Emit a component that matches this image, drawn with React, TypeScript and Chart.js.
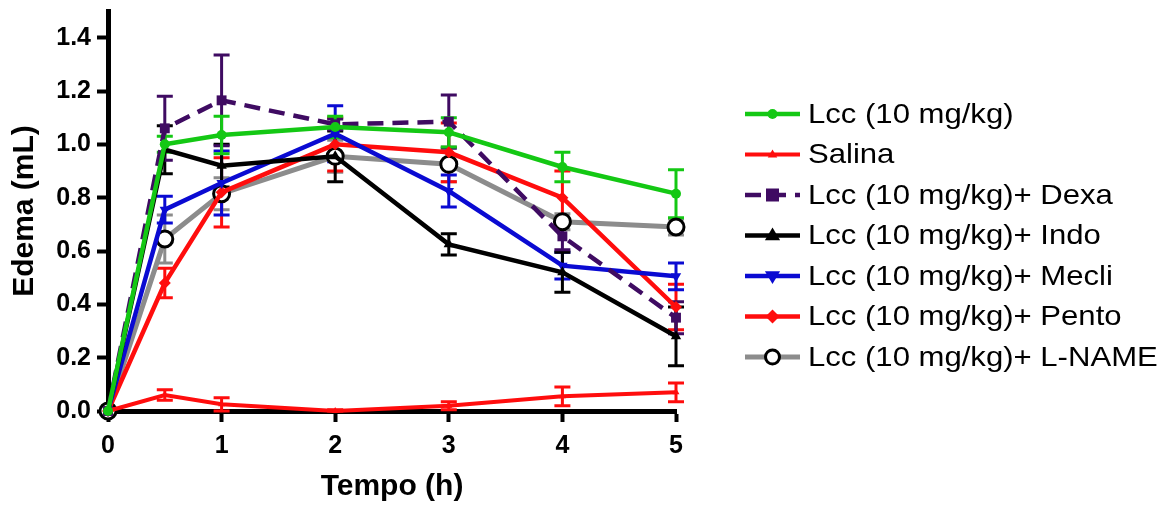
import React, { useEffect, useRef } from 'react';
import { Chart, registerables } from 'chart.js';

Chart.register(...registerables);

const timePoints = [0, 0.5, 1, 2, 3, 4, 5];
const xTickValues = [0, 1, 2, 3, 4, 5];
const yTickValues = [0, 0.2, 0.4, 0.6, 0.8, 1.0, 1.2, 1.4];

const seriesLabels = [
  'Lcc (10 mg/kg)',
  'Salina',
  'Lcc (10 mg/kg)+ Dexa',
  'Lcc (10 mg/kg)+ Indo',
  'Lcc (10 mg/kg)+ Mecli',
  'Lcc (10 mg/kg)+ Pento',
  'Lcc (10 mg/kg)+ L-NAME',
];

const lccMean = [0, 1.0, 1.035, 1.065, 1.045, 0.915, 0.815];
const lccErr = [0, 0.03, 0.07, 0.04, 0.055, 0.055, 0.09];
const salinaMean = [0, 0.06, 0.025, 0.0, 0.02, 0.055, 0.07];
const salinaErr = [0, 0.02, 0.025, 0.005, 0.015, 0.035, 0.035];
const dexaMean = [0, 1.06, 1.165, 1.075, 1.085, 0.655, 0.35];
const dexaErr = [0, 0.12, 0.17, 0.02, 0.1, 0.05, 0.06];
const indoMean = [0, 0.98, 0.92, 0.955, 0.625, 0.52, 0.28];
const indoErr = [0, 0.09, 0.08, 0.095, 0.04, 0.075, 0.11];
const mecliMean = [0, 0.755, 0.855, 1.04, 0.825, 0.545, 0.505];
const mecliErr = [0, 0.05, 0.12, 0.105, 0.06, 0.05, 0.05];
const pentoMean = [0, 0.48, 0.82, 1.0, 0.97, 0.8, 0.39];
const pentoErr = [0, 0.055, 0.13, 0.1, 0.11, 0.1, 0.085];
const lnameMean = [0, 0.645, 0.815, 0.955, 0.925, 0.71, 0.69];
const lnameErr = [0, 0.09, 0.06, 0.06, 0.065, 0.03, 0.03];

const FONT = "'Liberation Sans', Arial, Helvetica, sans-serif";

type MarkerSpec = {
  shape: string;
  r: number;
  fill: string;
  stroke: string;
  bw: number;
};

function drawMarker(ctx: CanvasRenderingContext2D, m: MarkerSpec, x: number, y: number) {
  ctx.save();
  ctx.setLineDash([]);
  ctx.fillStyle = m.fill;
  ctx.strokeStyle = m.stroke;
  ctx.lineWidth = m.bw;
  ctx.beginPath();
  const r = m.r;
  if (m.shape === 'circle') {
    ctx.arc(x, y, r, 0, Math.PI * 2);
  } else if (m.shape === 'rect') {
    ctx.rect(x - r, y - r, 2 * r, 2 * r);
  } else if (m.shape === 'triangle') {
    ctx.moveTo(x, y - r);
    ctx.lineTo(x + r * 0.95, y + r * 0.6);
    ctx.lineTo(x - r * 0.95, y + r * 0.6);
    ctx.closePath();
  } else if (m.shape === 'down') {
    ctx.moveTo(x, y + r);
    ctx.lineTo(x + r * 0.95, y - r * 0.6);
    ctx.lineTo(x - r * 0.95, y - r * 0.6);
    ctx.closePath();
  } else if (m.shape === 'diamond') {
    ctx.moveTo(x, y - r);
    ctx.lineTo(x + r, y);
    ctx.lineTo(x, y + r);
    ctx.lineTo(x - r, y);
    ctx.closePath();
  }
  ctx.fill();
  if (m.bw > 0) ctx.stroke();
  ctx.restore();
}

const errorBarPlugin = {
  id: 'errorBars',
  beforeDatasetsDraw(chart: any) {
    const ctx = chart.ctx as CanvasRenderingContext2D;
    const xs = chart.scales.x;
    const ys = chart.scales.y;
    const dsets = chart.data.datasets as any[];
    for (let i = dsets.length - 1; i >= 0; i--) {
      const ds = dsets[i];
      const errs: number[] = ds.errors;
      if (!errs) continue;
      ctx.save();
      ctx.setLineDash([]);
      ctx.strokeStyle = ds.errorColor || ds.borderColor;
      ctx.lineWidth = 3;
      ds.data.forEach((p: any, j: number) => {
        const e = errs[j];
        if (!e) return;
        const px = xs.getPixelForValue(p.x);
        const yT = ys.getPixelForValue(p.y + e);
        const yB = ys.getPixelForValue(Math.max(0, p.y - e));
        ctx.beginPath();
        ctx.moveTo(px, yT);
        ctx.lineTo(px, yB);
        ctx.moveTo(px - 8, yT);
        ctx.lineTo(px + 8, yT);
        ctx.moveTo(px - 8, yB);
        ctx.lineTo(px + 8, yB);
        ctx.stroke();
      });
      ctx.restore();
    }
  },
};

const legendPlugin = {
  id: 'sideLegend',
  afterDraw(chart: any) {
    const ctx = chart.ctx as CanvasRenderingContext2D;
    const dsets = chart.data.datasets as any[];
    const x0 = 745;
    const x1 = 800;
    const textX = 808;
    const top = 114;
    const step = 40.5;
    const stretch = 1.11;
    dsets.forEach((ds, i) => {
      const y = top + step * i;
      ctx.save();
      ctx.strokeStyle = ds.borderColor;
      ctx.lineWidth = ds.borderWidth;
      ctx.setLineDash(ds.borderDash || []);
      ctx.beginPath();
      ctx.moveTo(x0, y);
      ctx.lineTo(x1, y);
      ctx.stroke();
      ctx.restore();
      drawMarker(ctx, ds.legendMarker, (x0 + x1) / 2, y);
      ctx.save();
      ctx.fillStyle = '#000';
      ctx.font = `28px ${FONT}`;
      ctx.textAlign = 'left';
      ctx.textBaseline = 'middle';
      ctx.translate(textX, y + 1);
      ctx.scale(stretch, 1);
      ctx.fillText(ds.label, 0, 0);
      ctx.restore();
    });
  },
};

function pts(vals: number[]) {
  return timePoints.map((t, i) => ({ x: t, y: vals[i] }));
}

export default function App() {
  const ref = useRef<HTMLCanvasElement | null>(null);

  useEffect(() => {
    if (!ref.current) return;
    const green = '#14c814';
    const red = '#ff0d0d';
    const purple = '#3f0b62';
    const black = '#000000';
    const blue = '#0a0ad2';
    const gray = '#8c8c8c';

    const datasets: any[] = [
      {
        label: seriesLabels[0],
        data: pts(lccMean),
        errors: lccErr,
        borderColor: green,
        backgroundColor: green,
        borderWidth: 4.5,
        pointStyle: 'circle',
        pointRadius: 5,
        pointBorderWidth: 0,
        legendMarker: { shape: 'circle', r: 5, fill: green, stroke: green, bw: 0 },
      },
      {
        label: seriesLabels[1],
        data: pts(salinaMean),
        errors: salinaErr,
        borderColor: red,
        backgroundColor: red,
        borderWidth: 4,
        pointStyle: 'triangle',
        pointRadius: 4,
        pointBorderWidth: 0,
        legendMarker: { shape: 'triangle', r: 5, fill: red, stroke: red, bw: 0 },
      },
      {
        label: seriesLabels[2],
        data: pts(dexaMean),
        errors: dexaErr,
        borderColor: purple,
        backgroundColor: purple,
        borderWidth: 4.5,
        borderDash: [16, 9],
        pointStyle: 'rect',
        pointRadius: 7,
        pointBorderWidth: 0,
        legendMarker: { shape: 'rect', r: 6.5, fill: purple, stroke: purple, bw: 0 },
      },
      {
        label: seriesLabels[3],
        data: pts(indoMean),
        errors: indoErr,
        borderColor: black,
        backgroundColor: black,
        borderWidth: 4.5,
        pointStyle: 'triangle',
        pointRadius: 6,
        pointBorderWidth: 0,
        legendMarker: { shape: 'triangle', r: 8, fill: black, stroke: black, bw: 0 },
      },
      {
        label: seriesLabels[4],
        data: pts(mecliMean),
        errors: mecliErr,
        borderColor: blue,
        backgroundColor: blue,
        borderWidth: 4.5,
        pointStyle: 'triangle',
        rotation: 180,
        pointRadius: 6,
        pointBorderWidth: 0,
        legendMarker: { shape: 'down', r: 8, fill: blue, stroke: blue, bw: 0 },
      },
      {
        label: seriesLabels[5],
        data: pts(pentoMean),
        errors: pentoErr,
        borderColor: red,
        backgroundColor: red,
        borderWidth: 4.5,
        pointStyle: 'rectRot',
        pointRadius: 6,
        pointBorderWidth: 0,
        legendMarker: { shape: 'diamond', r: 7, fill: red, stroke: red, bw: 0 },
      },
      {
        label: seriesLabels[6],
        data: pts(lnameMean),
        errors: lnameErr,
        errorColor: gray,
        borderColor: gray,
        backgroundColor: '#ffffff',
        pointBorderColor: '#000000',
        borderWidth: 5,
        pointStyle: 'circle',
        pointRadius: 8,
        pointBorderWidth: 3,
        legendMarker: { shape: 'circle', r: 7, fill: '#ffffff', stroke: '#000000', bw: 3 },
      },
    ];
    datasets.forEach((d) => {
      d.tension = 0;
      d.fill = false;
      d.clip = false;
      d.pointHoverRadius = d.pointRadius;
    });

    const chart = new Chart(ref.current, {
      type: 'line',
      data: { datasets },
      plugins: [errorBarPlugin, legendPlugin],
      options: {
        animation: false,
        responsive: false,
        devicePixelRatio: 1,
        layout: { padding: { left: 0, top: 11, right: 497, bottom: 0 } },
        plugins: { legend: { display: false }, tooltip: { enabled: false } },
        scales: {
          x: {
            type: 'linear',
            min: 0,
            max: 5,
            afterBuildTicks: (scale: any) => {
              scale.ticks = xTickValues.map((v) => ({ value: v }));
            },
            afterFit: (scale: any) => {
              scale.height = 96;
              scale.paddingLeft = 0;
              scale.paddingRight = 0;
            },
            ticks: {
              color: '#000',
              font: { family: FONT, size: 25, weight: 'bold' },
              padding: 9,
              maxRotation: 0,
              callback: (v: any) => String(v),
            },
            grid: {
              display: true,
              drawOnChartArea: false,
              drawTicks: true,
              tickLength: 11,
              tickWidth: 4,
              tickColor: '#000',
            },
            border: { display: true, color: '#000', width: 5 },
            title: {
              display: true,
              text: 'Tempo (h)',
              color: '#000',
              font: { family: FONT, size: 30, weight: 'bold' },
              padding: { top: 0, bottom: 2 },
            },
          },
          y: {
            type: 'linear',
            min: 0,
            max: 1.5,
            afterBuildTicks: (scale: any) => {
              scale.ticks = yTickValues.map((v) => ({ value: v }));
            },
            afterFit: (scale: any) => {
              scale.width = 108;
              scale.paddingTop = 0;
              scale.paddingBottom = 0;
            },
            ticks: {
              color: '#000',
              font: { family: FONT, size: 25, weight: 'bold' },
              padding: 6,
              callback: (v: any) => Number(v).toFixed(1),
            },
            grid: {
              display: true,
              drawOnChartArea: false,
              drawTicks: true,
              tickLength: 11,
              tickWidth: 4,
              tickColor: '#000',
            },
            border: { display: true, color: '#000', width: 5 },
            title: {
              display: true,
              text: 'Edema (mL)',
              color: '#000',
              font: { family: FONT, size: 30, weight: 'bold' },
              padding: { top: 7, bottom: 0 },
            },
          },
        },
      } as any,
    });
    return () => chart.destroy();
  }, []);

  return (
    <div style={{ position: 'absolute', left: 0, top: 0, width: 1173, height: 507, background: '#fff' }}>
      <canvas ref={ref} width={1173} height={507} style={{ width: 1173, height: 507, display: 'block' }} />
    </div>
  );
}
